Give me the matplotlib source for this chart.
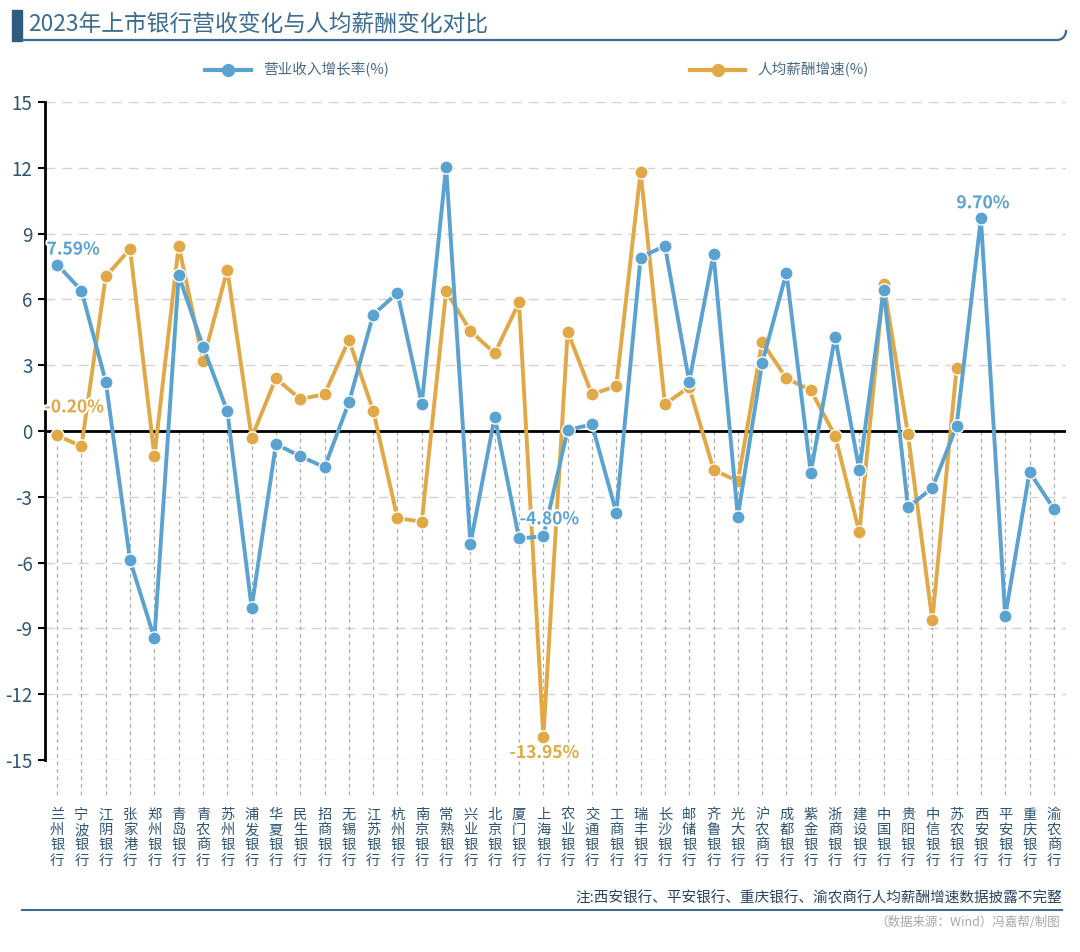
import matplotlib
matplotlib.use("Agg")
import matplotlib.pyplot as plt
import matplotlib.transforms as mtransforms
import matplotlib.patheffects as pe
from matplotlib.lines import Line2D
from matplotlib.patches import Rectangle
import numpy as np

plt.rcParams['font.family'] = ['Noto Sans CJK SC', 'DejaVu Sans']

# ---------------- data ----------------
banks = ["兰州银行", "宁波银行", "江阴银行", "张家港行", "郑州银行", "青岛银行", "青农商行",
         "苏州银行", "浦发银行", "华夏银行", "民生银行", "招商银行", "无锡银行", "江苏银行",
         "杭州银行", "南京银行", "常熟银行", "兴业银行", "北京银行", "厦门银行", "上海银行",
         "农业银行", "交通银行", "工商银行", "瑞丰银行", "长沙银行", "邮储银行", "齐鲁银行",
         "光大银行", "沪农商行", "成都银行", "紫金银行", "浙商银行", "建设银行", "中国银行",
         "贵阳银行", "中信银行", "苏农银行", "西安银行", "平安银行", "重庆银行", "渝农商行"]

revenue_growth = [7.59, 6.4, 2.25, -5.9, -9.45, 7.1, 3.85,
                  0.9, -8.05, -0.6, -1.15, -1.65, 1.3, 5.3,
                  6.3, 1.25, 12.05, -5.15, 0.65, -4.9, -4.80,
                  0.05, 0.3, -3.72, 7.9, 8.45, 2.25, 8.05,
                  -3.9, 3.1, 7.22, -1.9, 4.3, -1.8, 6.42,
                  -3.48, -2.6, 0.23, 9.70, -8.45, -1.87, -3.55]

salary_growth = [-0.20, -0.7, 7.05, 8.3, -1.15, 8.45, 3.2,
                 7.35, -0.3, 2.4, 1.45, 1.68, 4.15, 0.93,
                 -3.98, -4.13, 6.37, 4.56, 3.54, 5.86, -13.95,
                 4.52, 1.67, 2.05, 11.82, 1.23, 2.0, -1.76,
                 -2.3, 4.05, 2.4, 1.86, -0.21, -4.62, 6.7,
                 -0.15, -8.63, 2.88, np.nan, np.nan, np.nan, np.nan]

yticks = [-15, -12, -9, -6, -3, 0, 3, 6, 9, 12, 15]

# annotated points: (series, index, text, offset px)
annotations = [("rev", 0, "7.59%", (16, 15)),
               ("sal", 0, "-0.20%", (17, 28)),
               ("rev", 20, "-4.80%", (6, 17)),
               ("sal", 20, "-13.95%", (1, -16)),
               ("rev", 38, "9.70%", (2, 15))]

legend_labels = ["营业收入增长率(%)", "人均薪酬增速(%)"]
title = "2023年上市银行营收变化与人均薪酬变化对比"
note = "注:西安银行、平安银行、重庆银行、渝农商行人均薪酬增速数据披露不完整"
source = "（数据来源：Wind）冯嘉帮/制图"

# ---------------- style ----------------
BLUE = "#5AA2CF"
ORANGE = "#E0A846"
DARK = "#2F5573"
TITLE_C = "#3B6B8E"

W, H = 1080, 952
fig = plt.figure(figsize=(W / 100, H / 100), dpi=100)
fig.patch.set_facecolor("white")


def fx(px):
    return px / W


def fy(py):
    return 1 - py / H


ax = fig.add_axes([fx(45), fy(760), fx(1066) - fx(45), fy(102) - fy(760)])
x = np.arange(len(banks))
ax.set_xlim(-0.5, len(banks) - 0.5)
ax.set_ylim(-15, 15)

# grid
for yv in yticks:
    if yv != 0:
        ax.axhline(yv, color="#D3D3D3", lw=1.0, ls=(0, (7, 5)), zorder=0)
ax.axhline(0, color="black", lw=2.0, zorder=2)
for xi in x:
    ax.plot([xi, xi], [0, -16.6], color="#ABABAB", lw=0.9, ls=(0, (3, 3)),
            clip_on=False, zorder=0)

# series
ax.plot(x, salary_growth, color=ORANGE, lw=2.8, marker="o", ms=9.5,
        mec="white", mew=1.0, zorder=3, solid_joinstyle="round")
ax.plot(x, revenue_growth, color=BLUE, lw=2.8, marker="o", ms=9.5,
        mec="white", mew=1.0, zorder=4, solid_joinstyle="round")

series = {"rev": (revenue_growth, BLUE), "sal": (salary_growth, ORANGE)}
for key, idx, txt, off in annotations:
    vals, col = series[key]
    ax.annotate(txt, (x[idx], vals[idx]), xytext=off, textcoords="offset pixels",
                ha="center", va="center", color=col, fontsize=12.5,
                fontweight="bold", zorder=6,
                path_effects=[pe.withStroke(linewidth=3, foreground="white")])

# axes styling
for s in ["top", "right", "bottom"]:
    ax.spines[s].set_visible(False)
ax.spines["left"].set_color("black")
ax.spines["left"].set_linewidth(2.0)
ax.set_yticks(yticks)
ax.set_yticklabels([str(v) for v in yticks])
ax.tick_params(axis="y", direction="out", length=5, width=1.5, color="black",
               labelcolor=DARK, labelsize=13.5, pad=4)
ax.set_xticks([])
ax.set_facecolor("white")

# vertical category labels
trans = mtransforms.blended_transform_factory(ax.transData, fig.transFigure)
for i, name in enumerate(banks):
    for j, ch in enumerate(name):
        ax.text(i, fy(815 + j * 15.2), ch, transform=trans, ha="center", va="center",
                fontsize=10.3, color=DARK, clip_on=False)

# title
fig.patches.append(Rectangle((fx(12), fy(41)), fx(10), fy(10) - fy(41),
                             transform=fig.transFigure, color="#2E5D80"))
fig.text(fx(28), fy(24), title, fontsize=16.4, color=TITLE_C, ha="left", va="center")
theta = np.linspace(-np.pi / 2, 0, 12)
r = 9
arc_x = 1057 + r * np.cos(theta)
arc_y = 31 - r * np.sin(theta)
ux = np.concatenate([[22], arc_x])
uy = np.concatenate([[40], arc_y])
fig.add_artist(Line2D([fx(v) for v in ux], [fy(v) for v in uy], color=TITLE_C,
                      lw=1.6, transform=fig.transFigure))

# legend
for (x0, x1, col, lab) in [(205, 251, BLUE, legend_labels[0]), (690, 745, ORANGE, legend_labels[1])]:
    fig.add_artist(Line2D([fx(x0), fx(x1)], [fy(70), fy(70)], color=col, lw=3,
                          transform=fig.transFigure))
    fig.add_artist(Line2D([fx((x0 + x1) / 2)], [fy(70)], color=col, marker="o", ms=8.5,
                          transform=fig.transFigure))
    fig.text(fx(x1 + 12), fy(70), lab, fontsize=10.5, color="#46698A", ha="left", va="center")

# note and source
fig.text(fx(1062), fy(898), note, fontsize=10.5, color="#2A4562", ha="right", va="center")
fig.add_artist(Line2D([fx(22), fx(1062)], [fy(910), fy(910)], color=TITLE_C, lw=1.5,
                      transform=fig.transFigure))
fig.text(fx(1060), fy(922), source, fontsize=9, color="#A8A8A8", ha="right", va="center")

fig.savefig("out.png", dpi=100, facecolor="white")
